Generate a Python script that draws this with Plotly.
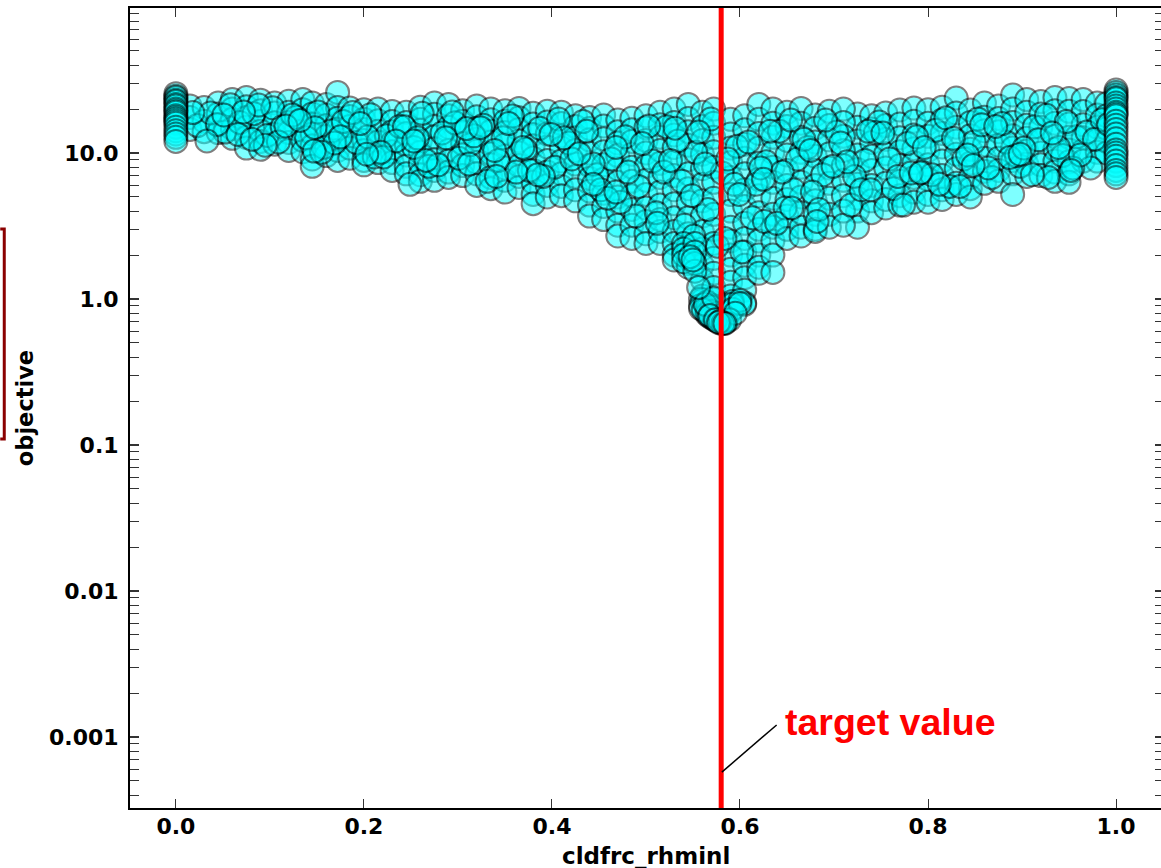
import plotly.graph_objects as go

TARGET_X = 0.58
x_ticks = [0.0, 0.2, 0.4, 0.6, 0.8, 1.0]
x_tick_labels = ["0.0", "0.2", "0.4", "0.6", "0.8", "1.0"]
y_ticks = [10, 1, 0.1, 0.01, 0.001]
y_tick_labels = ["10.0", "1.0", "0.1", "0.01", "0.001"]
y_minor = [m * 10.0 ** e for e in range(-4, 2) for m in range(2, 10)]

# (parameter value, [objective values])
edge_zero = [
    (0.0, [25.5, 24.5, 24, 23, 22.5, 21.5, 21, 20, 19.5, 19, 18, 17.5, 17, 16.5, 16, 15, 14.2, 13.5, 12.8, 12])]
left_band = [
    (0.015, [21, 17.5, 14.5]), (0.03, [20.5, 16.5, 14]), (0.045, [22, 18.5, 15.5, 13.8]),
    (0.06, [23.2, 20, 17, 14.7, 12.6]), (0.075, [24, 20.7, 17.5, 15, 12.8, 10.8]),
    (0.09, [23, 19.5, 16.5, 14.1, 12, 10.6]), (0.105, [22, 18.8, 16.1, 13.5, 11.5]),
    (0.12, [22.6, 19, 16.2, 13.8, 11.8, 10.4]), (0.135, [23.2, 19.8, 16.8, 14.2, 12.2, 10.2]),
    (0.145, [22, 18.5, 15.8, 13.5, 11.2, 9.1, 8.1]), (0.16, [21.5, 18.2, 15.4, 13, 11, 9.6]),
    (0.172, [26, 20.5, 17.3, 14.6, 12.4, 10.4, 8.9]), (0.185, [20.3, 17.8, 15.2, 12.8, 10.8, 9.2]),
    (0.2, [19.8, 17, 14.5, 12.2, 10.4, 8.9, 8.3]), (0.215, [20, 16.6, 14.1, 11.9, 10, 8.6]),
    (0.23, [19.2, 16.4, 14, 11.8, 10.2, 8.6, 7.6]), (0.245, [19, 16.2, 13.6, 11.5, 9.7, 8.1, 7.2]),
    (0.26, [20.6, 17, 14.3, 12.1, 10.1, 8.5, 7.1, 6.4]), (0.275, [22, 18.4, 15.2, 12.9, 10.7, 9, 7.6, 6.5]),
    (0.29, [21.5, 18, 15, 12.6, 10.4, 8.8, 7.4, 6.8]), (0.305, [19.5, 16.5, 14, 11.6, 9.7, 8.2, 7]),
    (0.32, [21, 17.7, 14.8, 12.4, 10.3, 8.6, 7.2, 6]), (0.335, [20, 16.9, 14.1, 11.9, 9.9, 8.3, 6.8, 5.7]),
    (0.35, [19.5, 16.5, 13.8, 11.4, 9.5, 7.9, 6.5, 5.4]), (0.365, [20.2, 17.4, 14.5, 12.1, 10, 8.2, 6.9, 5.8]),
    (0.38, [18.7, 15.8, 13.4, 11.2, 9.2, 7.6, 6.3, 5.2, 4.5]), (0.395, [19.3, 16.3, 13.5, 11, 8.9, 7.4, 6, 5]),
    (0.41, [19, 15.9, 13.1, 10.8, 8.8, 7.2, 5.9, 5.1]), (0.425, [18, 15.2, 12.7, 10.4, 8.4, 6.9, 5.6, 4.7]),
    (0.44, [17.5, 14.7, 12.3, 10, 8.2, 6.7, 5.5, 4.4, 3.7]), (0.455, [18.2, 15.3, 12.5, 10.2, 8.3, 6.6, 5.3, 4.3, 3.5])]
middle_band = [
    (0.47, [16.8, 14, 11.7, 9.6, 7.8, 6.3, 5, 4, 3.2, 2.7]), (0.485, [17.3, 14.4, 12, 9.8, 8, 6.4, 5.1, 4.1, 3.2, 2.6]),
    (0.5, [18, 14.9, 12.2, 10, 8.1, 6.5, 5.2, 4.2, 3.4, 2.8, 2.4]), (0.515, [19, 15.6, 12.8, 10.4, 8.5, 6.8, 5.4, 4.4, 3.5, 2.9, 2.4]),
    (0.53, [20, 16.2, 13.3, 10.9, 8.7, 7, 5.6, 4.5, 3.6, 2.9, 2.4, 2.0, 1.85]),
    (0.545, [21.5, 17.2, 14, 11.3, 9, 7.2, 5.7, 4.6, 3.6, 2.8, 2.3, 2.1, 1.9, 1.75, 1.65]),
    (0.56, [19, 15.2, 12.2, 9.8, 7.8, 6.1, 4.7, 3.7, 2.9, 2.2, 1.7, 1.35, 1.05, 0.98]),
    (0.572, [20, 16, 12.8, 10.2, 8, 6.3, 4.9, 3.8, 3, 2.4, 1.9, 1.5, 1.2, 1.0, 0.9, 0.84, 0.8]),
    (0.59, [17, 13.5, 10.8, 8.6, 6.8, 5.2, 4, 3.1, 2.5, 2, 1.6, 1.3, 1.05, 0.92, 0.82]),
    (0.605, [18, 14.4, 11.5, 9.2, 7.2, 5.6, 4.3, 3.3, 2.6, 2.1, 1.7, 1.4, 1.15, 0.94, 0.92]),
    (0.62, [21.5, 17, 13.6, 10.8, 8.5, 6.6, 5.1, 3.9, 3, 2.5, 2, 1.65, 1.5]),
    (0.635, [20, 16, 12.8, 10.1, 8, 6.3, 4.9, 3.8, 3.1, 2.5, 2, 1.52]), (0.65, [19, 15.2, 12.2, 9.7, 7.6, 6, 4.8, 3.7, 3, 2.6]),
    (0.665, [20.2, 16, 12.8, 10.1, 8, 6.3, 5, 3.9, 3.1, 2.7]), (0.68, [18.2, 14.8, 11.9, 9.5, 7.6, 6, 4.7, 3.8, 3, 2.9]),
    (0.695, [19.3, 15.4, 12.3, 9.9, 7.9, 6.2, 4.9, 3.8, 3.1]), (0.71, [20, 16.2, 13, 10.4, 8.2, 6.5, 5.1, 4, 3.2])]
right_band = [
    (0.725, [18.5, 15, 12.1, 9.7, 7.7, 6.1, 4.9, 4, 3.1]), (0.74, [18, 14.6, 11.8, 9.5, 7.6, 6, 4.7, 3.9]),
    (0.755, [18.8, 15.4, 12.4, 9.9, 7.9, 6.2, 4.8, 4.2]), (0.77, [19.7, 15.8, 12.7, 10.2, 8.2, 6.4, 5.1, 4.4]),
    (0.785, [20.3, 16.5, 13.3, 10.7, 8.6, 6.8, 5.4, 4.6]), (0.8, [19.8, 16, 13, 10.4, 8.3, 6.6, 5.2, 4.6]),
    (0.815, [20.6, 16.8, 13.6, 11, 8.8, 7, 5.6, 4.8]), (0.83, [23.8, 18.8, 15, 12.1, 9.8, 7.8, 6.2, 5.2]),
    (0.845, [19.7, 16.2, 13.1, 10.6, 8.5, 6.8, 5.7, 5]), (0.86, [22, 17.6, 14.2, 11.4, 9.2, 7.5, 6.2]),
    (0.875, [21, 17.2, 14, 11.3, 9.2, 7.6, 6.4]), (0.89, [25, 20, 16.2, 13.1, 10.8, 8.9, 7.2, 5.2]),
    (0.905, [23.2, 19, 15.5, 12.6, 10.3, 8.4, 6.9]), (0.92, [22.5, 18.5, 15, 12.3, 10, 8.3, 7]),
    (0.935, [24, 19.5, 16, 13, 10.6, 8.8, 7.4, 6.4]), (0.95, [23.6, 19.3, 15.8, 12.8, 10.5, 8.7, 7.2, 6.3]),
    (0.965, [23.2, 19.2, 15.6, 12.7, 10.4, 8.8]), (0.98, [22, 18.2, 15, 12.3, 10.1, 8.8]), (0.99, [21.8, 18, 14.7, 12, 10])]
edge_one = [
    (1.0, [27, 26, 25, 24, 23.5, 22, 21, 20, 19, 18.5, 18, 16.5, 15.5, 14.5, 13.5, 12.5, 11.5, 10.5, 10, 9.5, 8.8, 8.2, 7.6, 7.2, 6.8])]

# individually read circles that sit between the columns above
loose_x = [
    0.023, 0.037, 0.052, 0.058, 0.068, 0.083, 0.097, 0.103, 0.113, 0.128, 0.139, 0.151, 0.157, 0.166, 0.178, 0.192, 0.207, 0.211,
    0.224, 0.238, 0.253, 0.262, 0.269, 0.283, 0.297, 0.301, 0.313, 0.327, 0.343, 0.348, 0.358, 0.372, 0.387, 0.403, 0.418, 0.433,
    0.448, 0.463, 0.478, 0.492, 0.507, 0.522, 0.538, 0.553, 0.566, 0.581, 0.597, 0.613, 0.628, 0.642, 0.657, 0.672, 0.688, 0.703,
    0.718, 0.733, 0.748, 0.763, 0.778, 0.793, 0.808, 0.823, 0.838, 0.853, 0.868, 0.883, 0.898, 0.913, 0.928, 0.943, 0.958, 0.973,
    0.018, 0.044, 0.066, 0.088, 0.109, 0.124, 0.148, 0.169, 0.188, 0.204, 0.221, 0.243, 0.257, 0.279, 0.294, 0.317, 0.331, 0.354,
    0.369, 0.391, 0.407, 0.421, 0.437, 0.452, 0.468, 0.489, 0.503, 0.519, 0.534, 0.549, 0.569, 0.587, 0.602, 0.617, 0.632, 0.648,
    0.661, 0.677, 0.691, 0.707, 0.722, 0.744, 0.759, 0.774, 0.788, 0.804, 0.819, 0.834, 0.849, 0.864, 0.879, 0.894, 0.911, 0.926,
    0.939, 0.954, 0.969, 0.985, 0.033, 0.072, 0.117, 0.155, 0.196, 0.234, 0.266, 0.309, 0.339, 0.376, 0.413, 0.444, 0.473, 0.496,
    0.526, 0.541, 0.556, 0.576, 0.594, 0.609, 0.626, 0.645, 0.668, 0.684, 0.714, 0.736, 0.768, 0.796, 0.827, 0.857, 0.887, 0.917,
    0.947, 0.977, 0.051, 0.095, 0.132, 0.175, 0.218, 0.249, 0.287, 0.324, 0.362, 0.399, 0.429, 0.459, 0.481, 0.511, 0.531, 0.551,
    0.563, 0.584, 0.599, 0.622, 0.639, 0.654, 0.675, 0.699, 0.729, 0.752, 0.782, 0.812, 0.842, 0.872, 0.902, 0.932, 0.962, 0.992,
    0.512, 0.468, 0.444, 0.625, 0.655, 0.682, 0.739, 0.792, 0.848, 0.898, 0.952, 0.312, 0.341, 0.385, 0.253, 0.147, 0.081, 0.203]
loose_y = [
    15.4, 18.8, 13.9, 21.4, 16.2, 18.6, 13.2, 20.4, 15.1, 17.6, 12.7, 19.1, 10.9, 14.2, 16.4, 11.8, 18.3, 9.4,
    13.1, 15.2, 10.9, 18.7, 8.1, 13.7, 16.1, 9.2, 11.4, 15.5, 8.9, 12.7, 17.9, 10.6, 14.8, 8.0, 11.7, 16.4,
    7.1, 9.1, 12.9, 5.9, 8.8, 15.1, 6.4, 10.1, 4.1, 7.3, 11.1, 3.6, 8.7, 14.1, 5.6, 10.9, 7.1, 13.9,
    4.4, 8.9, 16.3, 5.7, 11.6, 7.4, 14.3, 5.9, 9.1, 17.1, 6.8, 11.9, 8.1, 15.1, 6.8, 9.6, 12.9, 7.9,
    18.9, 15.7, 13.4, 21.3, 11.9, 18.2, 14.9, 11.7, 18.9, 12.9, 9.4, 15.1, 12.7, 8.3, 19.1, 13.1, 6.4, 15.9,
    10.9, 6.9, 17.1, 9.1, 14.1, 5.6, 10.9, 3.7, 15.3, 7.4, 12.1, 5.1, 17.1, 9.1, 2.1, 6.1, 14.1, 4.2,
    9.1, 5.4, 16.8, 11.7, 6.9, 13.8, 9.1, 4.4, 12.9, 7.1, 17.4, 5.9, 11.9, 7.9, 15.9, 9.6, 7.1, 18.1,
    10.9, 7.9, 13.9, 16.9, 12.1, 19.1, 15.3, 10.1, 15.9, 12.1, 8.9, 14.7, 10.4, 7.6, 12.7, 8.4, 4.6, 11.6,
    8.9, 3.2, 13.9, 2.3, 6.1, 11.9, 3.4, 7.4, 12.4, 4.1, 8.7, 14.1, 6.9, 10.9, 12.6, 15.6, 9.3, 12.3,
    16.4, 12.4, 18.2, 11.3, 16.7, 12.9, 10.1, 6.1, 12.7, 14.9, 7.4, 13.4, 9.9, 4.9, 7.4, 3.9, 14.8, 2.7,
    8.4, 2.6, 5.2, 7.9, 3.3, 16.8, 10.4, 8.1, 5.6, 13.7, 7.3, 6.1, 9.7, 15.2, 10.8, 13.7, 9.7, 15.7,
    3.3, 5.4, 6.1, 6.6, 4.2, 3.4, 5.6, 7.3, 8.2, 9.8, 7.6, 8.4, 6.9, 7.1, 12.1, 10.3, 12.4, 9.8]

# the dense tip of the funnel
tip_x = [0.558, 0.558, 0.558, 0.565, 0.565, 0.565, 0.565, 0.57, 0.57, 0.57, 0.57, 0.57, 0.575, 0.575, 0.575, 0.575,
         0.58, 0.58, 0.58, 0.58, 0.58, 0.585, 0.585, 0.585, 0.585, 0.54, 0.54, 0.54, 0.54, 0.552, 0.552, 0.552, 0.552,
         0.592, 0.592, 0.592, 0.6, 0.6, 0.561, 0.567, 0.573, 0.578, 0.583, 0.589, 0.595, 0.563, 0.572, 0.556, 0.547, 0.55,
         0.568, 0.574, 0.579, 0.582, 0.577, 0.584]
tip_y = [1.0, 0.9, 0.86, 0.95, 0.85, 0.8, 0.78, 0.88, 0.82, 0.78, 0.75, 0.74, 0.8, 0.76, 0.73, 0.71,
         0.78, 0.74, 0.71, 0.69, 0.68, 0.8, 0.75, 0.71, 0.69, 2.4, 2.2, 2.0, 1.8, 2.4, 2.1, 1.75, 1.55,
         0.96, 0.92, 0.85, 0.98, 0.93, 0.84, 0.76, 0.72, 0.7, 0.69, 0.72, 0.8, 0.92, 1.02, 1.2, 1.95, 1.85,
         0.77, 0.72, 0.7, 0.68, 0.69, 0.68]

target_line_x = [TARGET_X, TARGET_X]
target_line_y = [0.000321, 100]
pointer_x = [0.5807, 0.639]
pointer_y = [0.000575, 0.00121]
label_x = 0.6455
label_y_log = -2.897

xs, ys = [], []
for group in (left_band, right_band, middle_band):
    for x, values in group:
        xs.extend([x] * len(values))
        ys.extend(values)
xs.extend(loose_x)
ys.extend(loose_y)
for group in (edge_zero, edge_one):
    for x, values in group:
        xs.extend([x] * len(values))
        ys.extend(values)
xs.extend(tip_x)
ys.extend(tip_y)

FONT = "DejaVu Sans"
fig = go.Figure()
fig.add_trace(go.Scatter(x=xs, y=ys, mode="markers", cliponaxis=True,
                         marker=dict(size=23, color="#00ffff", opacity=0.5,
                                     line=dict(color="#000000", width=2))))
fig.add_trace(go.Scatter(x=target_line_x, y=target_line_y, mode="lines",
                         line=dict(color="#ff0000", width=5)))
fig.add_trace(go.Scatter(x=pointer_x, y=pointer_y, mode="lines",
                         line=dict(color="#000000", width=1.5)))

axis_font = dict(family=FONT, size=22, color="black", weight="bold")
fig.update_layout(
    width=1170, height=868, showlegend=False, plot_bgcolor="white", paper_bgcolor="white",
    margin=dict(l=130, r=4, t=8, b=60),
    xaxis=dict(range=[-0.0488, 1.051], tickmode="array", tickvals=x_ticks, ticktext=x_tick_labels,
               ticks="inside", ticklen=9, tickwidth=1, tickcolor="#333", mirror="allticks",
               showline=True, linewidth=2, linecolor="black", showgrid=False, zeroline=False,
               tickfont=axis_font, ticklabelstandoff=-2),
    yaxis=dict(type="log", range=[-3.486, 1.993], tickmode="array", tickvals=y_ticks, ticktext=y_tick_labels,
               ticks="inside", ticklen=9, tickwidth=1.5, tickcolor="#333", mirror="allticks",
               showline=True, linewidth=2, linecolor="black", showgrid=False, zeroline=False,
               tickfont=axis_font, ticklabelstandoff=5,
               minor=dict(tickmode="array", tickvals=y_minor, ticks="inside", ticklen=9, tickwidth=1,
                          tickcolor="#333", showgrid=False)),
    annotations=[
        dict(x=label_x, y=label_y_log, xref="x", yref="y", text="<b>target value</b>", showarrow=False,
             xanchor="left", yanchor="middle", font=dict(family="Liberation Sans", size=37.5, color="#ff0000")),
        dict(x=0.499, y=-0.06, xref="paper", yref="paper", text="<b>cldfrc_rhminl</b>", showarrow=False,
             xanchor="center", yanchor="middle", font=dict(family=FONT, size=23, color="black")),
        dict(x=-0.1014, y=0.5, xref="paper", yref="paper", text="<b>objective</b>", showarrow=False, textangle=-90,
             xanchor="center", yanchor="middle", font=dict(family=FONT, size=22.5, color="black")),
    ],
    shapes=[dict(type="path", xref="paper", yref="paper",
                 path="M -0.1255 0.7238 L -0.1216 0.7238 L -0.1216 0.46125 L -0.1255 0.46125",
                 line=dict(color="#8b0000", width=3))],
)
fig.write_html("out.html", config={"displayModeBar": False},
               post_script="document.body.style.margin='0';document.body.style.overflow='hidden';")
